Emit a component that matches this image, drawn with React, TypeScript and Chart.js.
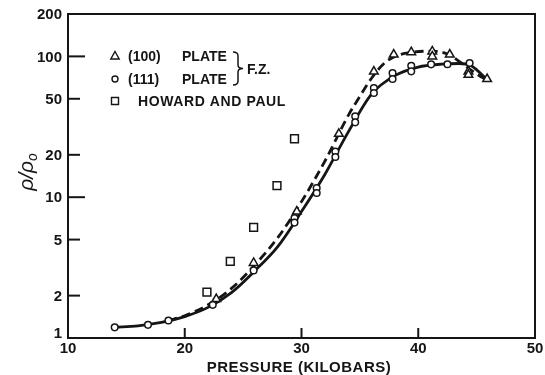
import React, { useEffect, useRef } from 'react';
import { Chart, registerables } from 'chart.js';

Chart.register(...registerables);

// Axis ticks
const xTickValues = [10, 20, 30, 40, 50];
const yTickValues = [1, 2, 5, 10, 20, 50, 100, 200];

// (100) PLATE, F.Z. (triangles)
const plate100X = [22.7, 25.9, 29.6, 33.2, 36.2, 37.9, 39.4, 41.2, 41.2, 42.7, 44.3, 44.3, 45.9];
const plate100Y = [1.89, 3.41, 7.9, 28.2, 78, 103, 107, 108.5, 100, 103, 78, 74, 69];

// (111) PLATE, F.Z. (circles)
const plate111X = [14.0, 16.85, 18.6, 22.4, 25.9, 29.4, 29.4, 31.3, 31.3, 32.9, 32.9, 34.6, 34.6, 36.2, 36.2, 37.8, 37.8, 39.4, 39.4, 41.1, 42.5, 44.4];
const plate111Y = [1.19, 1.24, 1.33, 1.72, 3.02, 7.1, 6.6, 11.6, 10.7, 21.1, 19.3, 37.5, 34.0, 59.7, 55.0, 76.2, 69.1, 85.9, 78.3, 87.8, 88, 89.8];

// Howard and Paul (squares)
const howardX = [21.9, 23.9, 25.9, 27.9, 29.4];
const howardY = [2.12, 3.5, 6.1, 12.1, 26.0];

// Fitted curves
const solidX = [14, 16, 18, 20, 22, 24, 26, 28, 30, 32, 34, 36, 38, 40, 42, 43.5, 44.5, 46];
const solidY = [1.19, 1.22, 1.29, 1.42, 1.65, 2.1, 3.0, 4.5, 7.9, 14.5, 29, 54, 73, 84, 88, 89, 86, 67];
const dashedX = [18.6, 20, 22, 24, 26, 28, 30, 32, 34, 35, 36, 37, 38, 39.5, 41, 42.5, 44, 45, 46];
const dashedY = [1.33, 1.44, 1.72, 2.25, 3.3, 5.2, 9.3, 18, 38, 52, 70, 88, 100, 107, 109, 104, 86, 75, 67];

// Text
const legendRows = [
  { marker: 'triangle', a: '(100)', b: 'PLATE' },
  { marker: 'circle', a: '(111)', b: 'PLATE' },
  { marker: 'square', a: 'HOWARD AND PAUL', b: '' },
];
const groupLabel = 'F.Z.';
const xTitle = 'PRESSURE (KILOBARS)';

const INK = '#151515';
const FONT = '"Liberation Sans", Arial, sans-serif';

const toPts = (xs: number[], ys: number[]) => xs.map((x, i) => ({ x, y: ys[i] }));

function drawMarker(ctx: CanvasRenderingContext2D, kind: string, x: number, y: number) {
  ctx.save();
  ctx.lineWidth = 1.4;
  ctx.strokeStyle = INK;
  ctx.fillStyle = '#fff';
  ctx.beginPath();
  if (kind === 'triangle') {
    ctx.moveTo(x, y - 4.5);
    ctx.lineTo(x + 4.2, y + 3);
    ctx.lineTo(x - 4.2, y + 3);
    ctx.closePath();
  } else if (kind === 'circle') {
    ctx.arc(x, y, 3, 0, Math.PI * 2);
  } else {
    ctx.rect(x - 3.5, y - 3.5, 7, 7);
  }
  ctx.fill();
  ctx.stroke();
  ctx.restore();
}

const decorPlugin = {
  id: 'decor',
  afterDraw(chart: any) {
    const { ctx, chartArea, scales } = chart;
    const { left, right, top, bottom } = chartArea;
    const xs = scales.x;
    const ys = scales.y;
    ctx.save();
    ctx.strokeStyle = INK;
    ctx.lineWidth = 2;
    ctx.strokeRect(left, top, right - left, bottom - top);
    // y ticks inward
    yTickValues.forEach((v) => {
      if (v === 1 || v === 200) return;
      const py = ys.getPixelForValue(v);
      const len = v === 10 || v === 100 ? 17 : 12;
      ctx.beginPath();
      ctx.moveTo(left, py);
      ctx.lineTo(left + len, py);
      ctx.stroke();
    });
    // x ticks inward
    xTickValues.forEach((v) => {
      if (v === 10 || v === 50) return;
      const px = xs.getPixelForValue(v);
      ctx.beginPath();
      ctx.moveTo(px, bottom);
      ctx.lineTo(px, bottom - 10);
      ctx.stroke();
    });

    ctx.fillStyle = INK;
    // tick labels
    ctx.font = `bold 15px ${FONT}`;
    ctx.textAlign = 'right';
    ctx.textBaseline = 'middle';
    yTickValues.forEach((v) => {
      const py = ys.getPixelForValue(v);
      ctx.fillText(String(v), left - 6, v === 1 ? py - 4 : py + 1);
    });
    ctx.textAlign = 'center';
    xTickValues.forEach((v) => {
      const px = xs.getPixelForValue(v);
      ctx.fillText(String(v), px, bottom + 11);
    });

    // x title
    ctx.font = `bold 15px ${FONT}`;
    ctx.textAlign = 'center';
    ctx.textBaseline = 'middle';
    (ctx as any).letterSpacing = '0.5px';
    ctx.fillText(xTitle, 299, 368);
    (ctx as any).letterSpacing = '0px';

    // y title (rotated)
    ctx.save();
    ctx.translate(28, 172);
    ctx.rotate(-Math.PI / 2);
    ctx.font = `italic 21px ${FONT}`;
    ctx.textAlign = 'left';
    ctx.textBaseline = 'alphabetic';
    const main = 'ρ/ρ';
    const w1 = ctx.measureText(main).width;
    ctx.font = `italic 14px ${FONT}`;
    const w2 = ctx.measureText('o').width;
    const total = w1 + w2;
    ctx.font = `italic 21px ${FONT}`;
    ctx.fillText(main, -total / 2, 5);
    ctx.font = `italic 14px ${FONT}`;
    ctx.fillText('o', -total / 2 + w1, 9);
    ctx.restore();

    // legend
    const rowY = [56, 79, 101];
    ctx.font = `bold 14px ${FONT}`;
    ctx.textAlign = 'left';
    ctx.textBaseline = 'middle';
    legendRows.forEach((r, i) => {
      drawMarker(ctx, r.marker, 115, rowY[i]);
      if (r.b) {
        ctx.fillText(r.a, 128, rowY[i] + 1);
        ctx.fillText(r.b, 182, rowY[i] + 1);
      } else {
        (ctx as any).letterSpacing = '0.6px';
        ctx.fillText(r.a, 138, rowY[i] + 1);
        (ctx as any).letterSpacing = '0px';
      }
    });
    // brace
    ctx.lineWidth = 1.5;
    ctx.beginPath();
    ctx.moveTo(233, 52);
    ctx.quadraticCurveTo(238, 52, 238, 56);
    ctx.lineTo(238, 65);
    ctx.quadraticCurveTo(238, 68.5, 243, 68.5);
    ctx.quadraticCurveTo(238, 68.5, 238, 72);
    ctx.lineTo(238, 81);
    ctx.quadraticCurveTo(238, 85, 233, 85);
    ctx.stroke();
    ctx.fillText(groupLabel, 247, 70);
    ctx.restore();
  },
};

export default function App() {
  const ref = useRef<HTMLCanvasElement>(null);
  useEffect(() => {
    if (!ref.current) return;
    const markerCommon = {
      showLine: false,
      borderColor: INK,
      backgroundColor: '#ffffff',
      borderWidth: 1.5,
      order: 1,
    };
    const chart = new Chart(ref.current, {
      type: 'scatter',
      data: {
        datasets: [
          {
            label: 'solid',
            data: toPts(solidX, solidY),
            showLine: true,
            borderColor: INK,
            borderWidth: 2.8,
            pointRadius: 0,
            cubicInterpolationMode: 'monotone',
            order: 3,
          } as any,
          {
            label: 'dashed',
            data: toPts(dashedX, dashedY),
            showLine: true,
            borderColor: INK,
            borderWidth: 2.8,
            borderDash: [9, 5],
            pointRadius: 0,
            cubicInterpolationMode: 'monotone',
            order: 3,
          } as any,
          { label: '(100) PLATE', data: toPts(plate100X, plate100Y), pointStyle: 'triangle', pointRadius: 5, ...markerCommon } as any,
          { label: '(111) PLATE', data: toPts(plate111X, plate111Y), pointStyle: 'circle', pointRadius: 3.3, ...markerCommon } as any,
          { label: 'HOWARD AND PAUL', data: toPts(howardX, howardY), pointStyle: 'rect', pointRadius: 5.5, ...markerCommon } as any,
        ],
      },
      options: {
        animation: false,
        responsive: false,
        maintainAspectRatio: false,
        layout: { padding: { left: 68, right: 10, top: 14, bottom: 37 } },
        plugins: { legend: { display: false }, tooltip: { enabled: false } },
        scales: {
          x: {
            type: 'linear',
            min: 10,
            max: 50,
            grid: { display: false, drawTicks: false },
            border: { display: false },
            afterFit: (s: any) => { s.height = 0; },
            ticks: { display: false },
          },
          y: {
            type: 'logarithmic',
            min: 1,
            max: 200,
            grid: { display: false, drawTicks: false },
            border: { display: false },
            afterFit: (s: any) => { s.width = 0; },
            ticks: { display: false },
          },
        },
      } as any,
      plugins: [decorPlugin],
    });
    return () => chart.destroy();
  }, []);
  return (
    <div style={{ position: 'fixed', left: 0, top: 0, width: 545, height: 375, background: '#fff' }}>
      <canvas ref={ref} width={545} height={375} style={{ width: 545, height: 375, display: 'block' }} />
    </div>
  );
}
